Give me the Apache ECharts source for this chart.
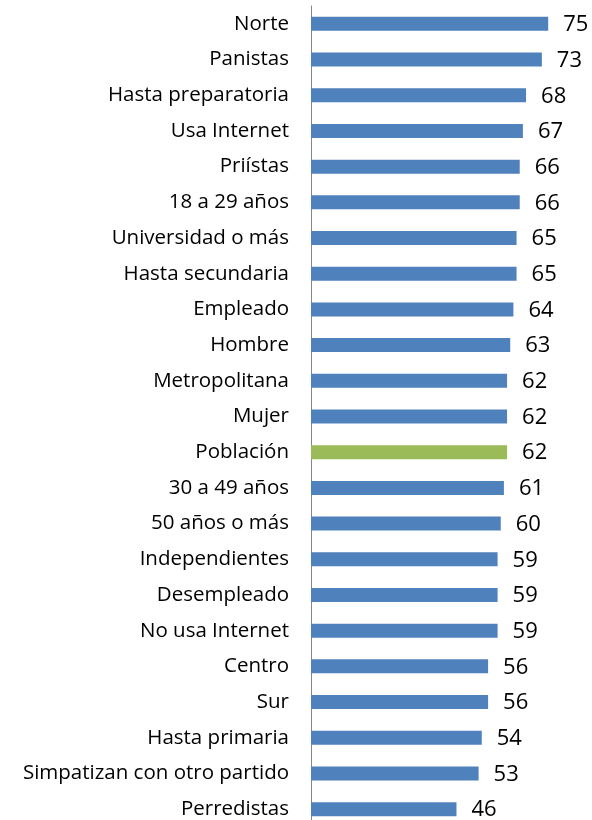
<!DOCTYPE html>
<html>
<head>
<meta charset="utf-8">
<script src="https://cdn.jsdelivr.net/npm/echarts@6/dist/echarts.min.js"></script>
<style>html,body{margin:0;padding:0;background:#fff}#c{width:592px;height:820px}</style>
</head>
<body>
<div id="c"></div>
<script>
const categories = ["Norte","Panistas","Hasta preparatoria","Usa Internet","Priístas","18 a 29 años","Universidad o más","Hasta secundaria","Empleado","Hombre","Metropolitana","Mujer","Población","30 a 49 años","50 años o más","Independientes","Desempleado","No usa Internet","Centro","Sur","Hasta primaria","Simpatizan con otro partido","Perredistas"];
const values = [75,73,68,67,66,66,65,65,64,63,62,62,62,61,60,59,59,59,56,56,54,53,46];
const highlight = "Población";

const chart = echarts.init(document.getElementById('c'), null, {renderer:'canvas'});
chart.setOption({
  animation:false,
  backgroundColor:'#ffffff',
  grid:{left:311, width:253, top:6, height:821, containLabel:false, outerBoundsMode:'none'},
  xAxis:{type:'value', min:0, max:80, show:false, splitLine:{show:false}},
  yAxis:{
    type:'category', data:categories, inverse:true,
    axisLine:{show:true, lineStyle:{color:'#868686', width:1}},
    axisTick:{show:false},
    axisLabel:{color:'#000', fontFamily:'Open Sans', fontSize:20.5, margin:22}
  },
  series:[{
    type:'bar', barWidth:14,
    data: values.map((v,i)=>({value:v, itemStyle:{color: categories[i]===highlight ? '#9BBB59' : '#4F81BD'}})),
    label:{show:true, position:'right', distance:15, color:'#000', fontFamily:'Open Sans', fontSize:22, offset:[0,1]}
  }]
});
</script>
</body>
</html>
